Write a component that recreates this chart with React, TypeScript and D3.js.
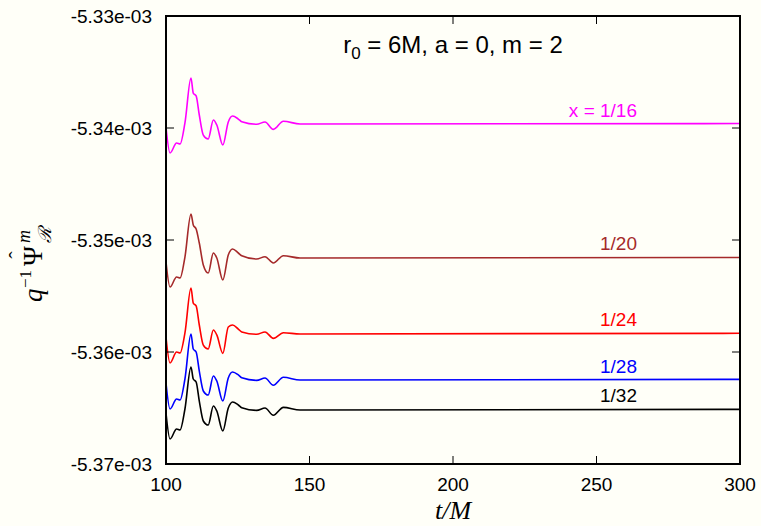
import React from "react";
import * as d3 from "d3";

const W = 761;
const H = 526;

const times = [100, 101.4, 103.7, 104.9, 106.6, 108.7, 109.5, 110.5, 111.6, 113.0, 114.7, 116.5, 117.7, 119.8, 121.7, 123.2, 125.2, 126.4, 131.6, 134.5, 137.4, 140.9, 146.7, 300];

const x16 = [-5.33991, -5.34223, -5.34134, -5.34143, -5.33955, -5.33554, -5.33688, -5.33714, -5.33884, -5.34063, -5.34098, -5.33929, -5.33973, -5.34152, -5.33946, -5.33893, -5.3392, -5.33944, -5.33967, -5.33946, -5.34012, -5.3394, -5.33964, -5.3396];
const x20 = [-5.35194, -5.3542, -5.3533, -5.35339, -5.35152, -5.34768, -5.34866, -5.34902, -5.35027, -5.35223, -5.35295, -5.35116, -5.35161, -5.35357, -5.35134, -5.3508, -5.35116, -5.3514, -5.3517, -5.35149, -5.35205, -5.3514, -5.35161, -5.35156];
const x24 = [-5.35866, -5.36098, -5.36, -5.36009, -5.3583, -5.35429, -5.35563, -5.35589, -5.35759, -5.35938, -5.35973, -5.35804, -5.35848, -5.36012, -5.35777, -5.35759, -5.35795, -5.35821, -5.35842, -5.35821, -5.35878, -5.35828, -5.35839, -5.35833];
const x28 = [-5.36277, -5.36509, -5.3642, -5.36429, -5.36241, -5.35839, -5.35973, -5.36, -5.3617, -5.36348, -5.36384, -5.36214, -5.36259, -5.36438, -5.36232, -5.36179, -5.36205, -5.3623, -5.36253, -5.36232, -5.36297, -5.36226, -5.3625, -5.36244];
const x32 = [-5.36545, -5.36777, -5.36688, -5.36696, -5.36509, -5.36134, -5.36241, -5.36268, -5.36438, -5.36616, -5.36652, -5.36482, -5.36527, -5.36705, -5.365, -5.36446, -5.36473, -5.36497, -5.36521, -5.365, -5.36565, -5.36494, -5.36518, -5.36512];

const seriesNames = ["x = 1/16", "1/20", "1/24", "1/28", "1/32"];
const seriesColors = ["#ff00ff", "#a52a2a", "#ff0000", "#0000ff", "#000000"];
const seriesValues = [x16, x20, x24, x28, x32];
const labelOffsets = [-7, -7, -7, -6, -7];

const xTicks = [100, 150, 200, 250, 300];
const yTicks = [-5.33, -5.34, -5.35, -5.36, -5.37];
const yTickLabels = ["-5.33e-03", "-5.34e-03", "-5.35e-03", "-5.36e-03", "-5.37e-03"];

const L = 166, R = 740, T = 16, B = 464;

export default function App() {
  const x = d3.scaleLinear().domain([100, 300]).range([L, R]);
  const y = d3.scaleLinear().domain([-5.37, -5.33]).range([B, T]);
  const line = d3
    .line<number>()
    .x((_, i) => x(times[i]))
    .y((v) => y(v))
    .curve(d3.curveMonotoneX);
  const tl = 8;
  const font = "'Liberation Sans', Arial, Helvetica, sans-serif";
  const serif = "'Liberation Serif', 'DejaVu Serif', serif";
  return (
    <svg width={W} height={H} style={{ position: "absolute", left: 0, top: 0, background: "#fffff8" }} fontFamily={font}>
      <rect x={0} y={0} width={W} height={H} fill="#fffff8" />
      {seriesValues.map((vals, k) => (
        <path key={k} d={line(vals) || ""} fill="none" stroke={seriesColors[k]} strokeWidth={1.6} />
      ))}
      {seriesValues.map((vals, k) => (
        <text key={"l" + k} x={637} y={y(vals[vals.length - 1]) + labelOffsets[k]} textAnchor="end" fontSize={19} fill={seriesColors[k]}>
          {seriesNames[k]}
        </text>
      ))}
      {xTicks.map((t) => (
        <g key={"x" + t}>
          <line x1={x(t)} x2={x(t)} y1={B} y2={B - tl} stroke="#000" strokeWidth={1} />
          <line x1={x(t)} x2={x(t)} y1={T} y2={T + tl} stroke="#000" strokeWidth={1} />
          <text x={x(t)} y={491} textAnchor="middle" fontSize={19} fill="#000">{t}</text>
        </g>
      ))}
      {yTicks.map((v, i) => (
        <g key={"y" + i}>
          <line x1={L} x2={L + tl} y1={y(v)} y2={y(v)} stroke="#000" strokeWidth={1} />
          <line x1={R} x2={R - tl} y1={y(v)} y2={y(v)} stroke="#000" strokeWidth={1} />
          <text x={152} y={y(v) + 7} textAnchor="end" fontSize={19} fill="#000">{yTickLabels[i]}</text>
        </g>
      ))}
      <rect x={L} y={T} width={R - L} height={B - T} fill="none" stroke="#000" strokeWidth={2} />
      <text x={453} y={53} textAnchor="middle" fontSize={24} fill="#000">
        r<tspan fontSize={17} dy={6}>0</tspan><tspan dy={-6}> = 6M, a = 0, m = 2</tspan>
      </text>
      <text x={453} y={519} textAnchor="middle" fontSize={26} fontFamily={serif} fontStyle="italic" fill="#000">
        t/M
      </text>
      <g transform="translate(42,232) rotate(-90)" fontFamily={serif} fill="#000">
        <text x={-70} y={0} fontSize={27} fontStyle="italic">q</text>
        <text x={-56} y={-11} fontSize={17}>−1</text>
        <text x={-34} y={0} fontSize={27}>Ψ</text>
        <text x={-23} y={-18} fontSize={22} textAnchor="middle">ˆ</text>
        <text x={-11} y={-12} fontSize={18} fontStyle="italic">m</text>
        <text x={-11} y={9} fontSize={18} fontStyle="italic">ℛ</text>
      </g>
    </svg>
  );
}
